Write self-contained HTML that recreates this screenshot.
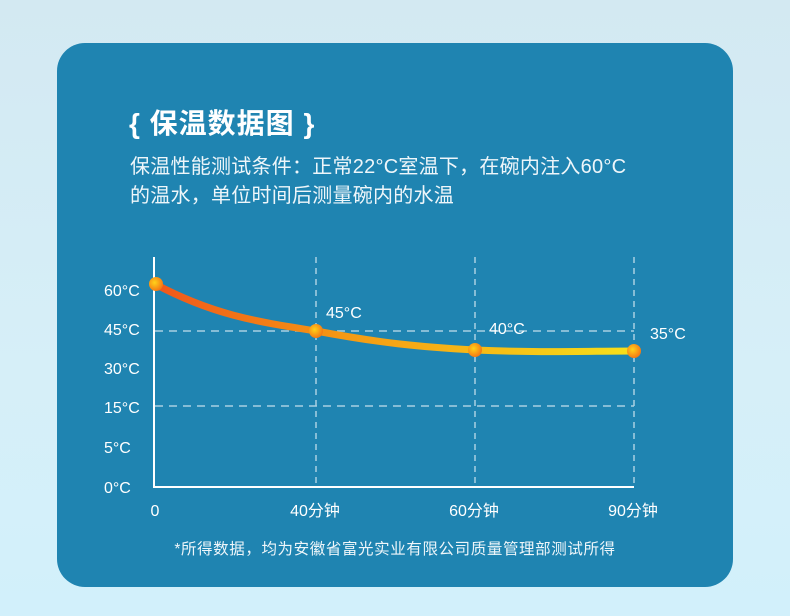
<!DOCTYPE html>
<html><head><meta charset="utf-8"><style>
html,body{margin:0;padding:0;}
body{width:790px;height:616px;overflow:hidden;background:linear-gradient(180deg,#d3e9f2 0%,#d6eff8 60%,#d2f0fb 100%);position:relative;font-family:"Liberation Sans","Noto Sans CJK SC",sans-serif;}
.card{position:absolute;left:57px;top:43px;width:676px;height:544px;background:#1f84b1;border-radius:28px;}
.t{position:absolute;color:#fff;white-space:nowrap;}
</style></head><body>
<div class="card"></div>
<div class="t" style="left:129px;top:102px;font-size:28px;font-weight:bold;letter-spacing:1px;">{ 保温数据图 }</div>
<div class="t" style="left:130px;top:153px;font-size:20px;line-height:29px;letter-spacing:0.25px;color:#eef6fa;">保温性能测试条件：正常22°C室温下，在碗内注入60°C<br>的温水，单位时间后测量碗内的水温</div>
<svg style="position:absolute;left:0;top:0" width="790" height="616" xmlns="http://www.w3.org/2000/svg">
<defs>
<linearGradient id="g" x1="155" y1="0" x2="634" y2="0" gradientUnits="userSpaceOnUse">
<stop offset="0" stop-color="#f0561a"/><stop offset="0.4" stop-color="#f59a14"/><stop offset="1" stop-color="#f7e01a"/></linearGradient>
<radialGradient id="d" cx="0.4" cy="0.4" r="0.6"><stop offset="0" stop-color="#ffd21a"/><stop offset="1" stop-color="#f47a14"/></radialGradient>
</defs>
<g stroke="#a9d0e2" stroke-width="1.5" stroke-dasharray="8,6" fill="none">
<line x1="155" y1="331" x2="634" y2="331"/>
<line x1="155" y1="406" x2="634" y2="406"/>
<line x1="316" y1="257" x2="316" y2="487" stroke-dasharray="6,5"/>
<line x1="475" y1="257" x2="475" y2="487" stroke-dasharray="6,5"/>
<line x1="634" y1="257" x2="634" y2="487" stroke-dasharray="6,5"/>
</g>
<polyline points="154,257 154,487 634,487" fill="none" stroke="#fff" stroke-width="2"/>
<path d="M155,284 C215,316 260,322 316,331 C380,343 420,347 475,350 C540,353 590,351 634,351" fill="none" stroke="url(#g)" stroke-width="7"/>
<g fill="url(#d)"><circle cx="156" cy="284" r="7"/><circle cx="316" cy="331" r="7"/><circle cx="475" cy="350" r="7"/><circle cx="634" cy="351" r="7"/></g>
<g fill="#fff" font-size="16" font-family="Liberation Sans, Noto Sans CJK SC, sans-serif">
<text x="104" y="296">60°C</text><text x="104" y="335">45°C</text><text x="104" y="374">30°C</text>
<text x="104" y="413">15°C</text><text x="104" y="453">5°C</text><text x="104" y="493">0°C</text>
<text x="326" y="318">45°C</text><text x="489" y="334">40°C</text><text x="650" y="339">35°C</text>
<text x="155" y="516" text-anchor="middle">0</text>
<text x="315" y="516" text-anchor="middle">40分钟</text>
<text x="474" y="516" text-anchor="middle">60分钟</text>
<text x="633" y="516" text-anchor="middle">90分钟</text>
<text x="395" y="554" text-anchor="middle" font-size="15.5" letter-spacing="0.6" fill="#eef6fa">*所得数据，均为安徽省富光实业有限公司质量管理部测试所得</text>
</g>
</svg>
</body></html>
